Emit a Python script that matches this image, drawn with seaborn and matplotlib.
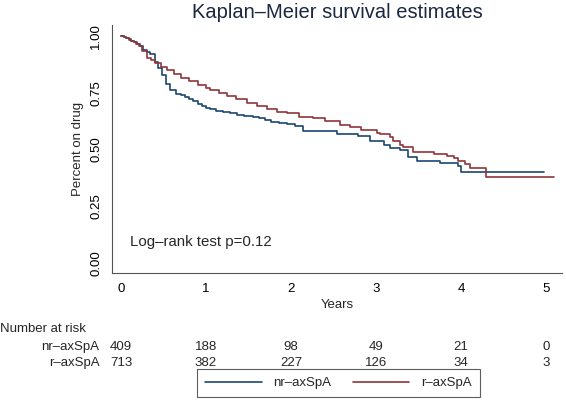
import numpy as np
import pandas as pd
import matplotlib
matplotlib.use("Agg")
import matplotlib.pyplot as plt
import seaborn as sns
from matplotlib.transforms import blended_transform_factory

# ---------------- data ----------------
groups = ["nr–axSpA", "r–axSpA"]

nr_time = [0.00, 0.03, 0.06, 0.09, 0.12, 0.15, 0.19, 0.22, 0.26, 0.30, 0.34,
           0.40, 0.44, 0.48, 0.53, 0.58, 0.65, 0.70, 0.75, 0.80, 0.85, 0.90,
           0.95, 1.00, 1.05, 1.12, 1.20, 1.28, 1.36, 1.45, 1.55, 1.62, 1.70,
           1.76, 1.86, 1.95, 2.05, 2.14, 2.54, 2.79, 2.93, 3.09, 3.16, 3.28,
           3.38, 3.48, 3.75, 3.97, 4.00, 4.98]
nr_surv = [1.000, 0.995, 0.990, 0.985, 0.978, 0.972, 0.966, 0.955, 0.940, 0.928,
           0.922, 0.885, 0.860, 0.830, 0.790, 0.762, 0.745, 0.738, 0.730, 0.722,
           0.712, 0.702, 0.692, 0.684, 0.677, 0.670, 0.665, 0.660, 0.653, 0.648,
           0.643, 0.637, 0.632, 0.620, 0.616, 0.612, 0.602, 0.580, 0.569, 0.562,
           0.539, 0.520, 0.505, 0.500, 0.466, 0.451, 0.443, 0.430, 0.400, 0.400]

r_time = [0.00, 0.03, 0.06, 0.09, 0.12, 0.15, 0.18, 0.21, 0.25, 0.30, 0.35,
          0.40, 0.47, 0.54, 0.62, 0.70, 0.80, 0.90, 1.00, 1.05, 1.15, 1.25,
          1.35, 1.48, 1.60, 1.72, 1.83, 1.95, 2.10, 2.26, 2.40, 2.58, 2.70,
          2.82, 3.01, 3.05, 3.16, 3.20, 3.28, 3.32, 3.44, 3.68, 3.84, 3.92,
          3.96, 4.05, 4.11, 4.29, 5.09]
r_surv = [1.000, 0.995, 0.990, 0.984, 0.978, 0.972, 0.966, 0.955, 0.935, 0.905,
          0.893, 0.880, 0.865, 0.850, 0.832, 0.815, 0.800, 0.785, 0.770, 0.762,
          0.750, 0.737, 0.722, 0.705, 0.690, 0.677, 0.667, 0.660, 0.645, 0.640,
          0.625, 0.608, 0.598, 0.587, 0.575, 0.568, 0.556, 0.540, 0.520, 0.510,
          0.490, 0.480, 0.470, 0.465, 0.450, 0.435, 0.418, 0.381, 0.381]

risk_times = [0, 1, 2, 3, 4, 5]
nr_risk = [409, 188, 98, 49, 21, 0]
r_risk = [713, 382, 227, 126, 34, 3]

xticks = [0, 1, 2, 3, 4, 5]
yticks = [0.00, 0.25, 0.50, 0.75, 1.00]
ytick_labels = ["0.00", "0.25", "0.50", "0.75", "1.00"]

title = "Kaplan–Meier survival estimates"
xlabel = "Years"
ylabel = "Percent on drug"
note = "Log–rank test p=0.12"
risk_header = "Number at risk"

colors = {"nr–axSpA": "#1a476f", "r–axSpA": "#90353b"}

# ---------------- styling ----------------
sns.set_style("white")
plt.rcParams["font.family"] = ["Liberation Sans", "DejaVu Sans"]

W, H = 566, 405
fig = plt.figure(figsize=(W / 100, H / 100), dpi=100)
fig.patch.set_facecolor("white")

ax_l, ax_r, ax_t, ax_b = 112, 561.7, 25, 273
ax = fig.add_axes([ax_l / W, 1 - ax_b / H, (ax_r - ax_l) / W, (ax_b - ax_t) / H])

df = pd.concat([
    pd.DataFrame({"time": nr_time, "surv": nr_surv, "group": groups[0]}),
    pd.DataFrame({"time": r_time, "surv": r_surv, "group": groups[1]}),
], ignore_index=True)

sns.lineplot(data=df, x="time", y="surv", hue="group", hue_order=groups,
             palette=colors, drawstyle="steps-post", estimator=None,
             linewidth=1.2, ax=ax, legend=False)

ax.set_xlim(-0.106, 5.185)
ax.set_ylim(-0.0427, 1.048)

ax.set_xticks(xticks)
ax.set_xticklabels([str(t) for t in xticks])
ax.set_yticks(yticks)
ax.set_yticklabels(ytick_labels, rotation=90, va="center")

for s in ["top", "right"]:
    ax.spines[s].set_visible(False)
for s in ["left", "bottom"]:
    ax.spines[s].set_color("#555555")
    ax.spines[s].set_linewidth(0.8)

ax.tick_params(axis="both", direction="out", length=4.2, width=0.8,
               color="#555555", labelsize=9.5, labelcolor="black", pad=3)

ax.set_xlabel(xlabel, fontsize=9.5, labelpad=3)
ax.set_ylabel(ylabel, fontsize=9.5, labelpad=4)

fig.text(337.5 / W, 1 - 12.6 / H, title, fontsize=14.5, color="#1c2841",
         ha="center", va="center")

ax.text(0.1, 0.093, note, fontsize=10.8, ha="left", va="center",
        transform=ax.transData)

# risk table
tr = blended_transform_factory(ax.transData, fig.transFigure)
fig.text(0.0, 1 - 328.6 / H, risk_header, fontsize=9.5, ha="left", va="center")
fig.text(99.3 / W, 1 - 346.6 / H, groups[0], fontsize=9.5, ha="right", va="center")
fig.text(99.3 / W, 1 - 362.9 / H, groups[1], fontsize=9.5, ha="right", va="center")
for t, n1, n2 in zip(risk_times, nr_risk, r_risk):
    ax.text(t, 1 - 346.6 / H, str(n1), fontsize=9.5, ha="center", va="center",
            transform=tr, clip_on=False)
    ax.text(t, 1 - 362.9 / H, str(n2), fontsize=9.5, ha="center", va="center",
            transform=tr, clip_on=False)

leg = fig.legend(ax.lines[:2], groups, loc="center",
                 bbox_to_anchor=(338.5 / W, 1 - 383 / H), ncol=2,
                 fontsize=9.5, frameon=True, fancybox=False,
                 handlelength=4.3, handletextpad=0.9, columnspacing=1.6,
                 borderpad=0.6)
leg.get_frame().set_edgecolor("#333333")
leg.get_frame().set_linewidth(0.8)

fig.savefig("out.png", dpi=100, facecolor="white")
